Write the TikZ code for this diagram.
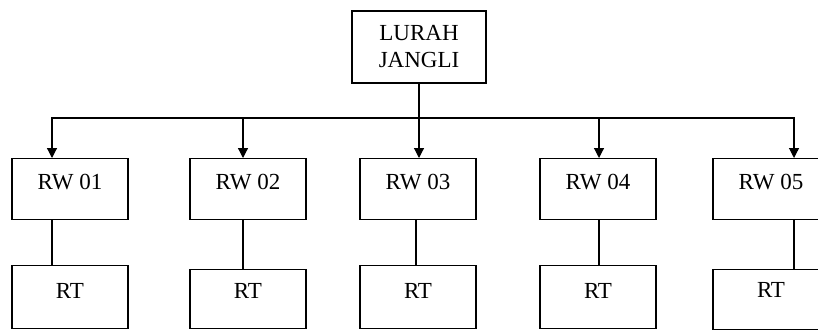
\documentclass[tikz,border=0pt]{standalone}
\usepackage{fontspec}
\setmainfont{Liberation Serif}
\usetikzlibrary{arrows.meta}
\begin{document}
\begin{tikzpicture}[x=1pt,y=-1pt,
  every node/.style={font=\fontsize{23}{27}\selectfont},
  box/.style={draw,line width=1.2pt,inner xsep=0pt,inner ysep=0pt,minimum width=116pt},
  rwbox/.style={box,text height=31pt,text depth=30pt},
  rtbox/.style={box,text height=33pt,text depth=30pt},
  conn/.style={line width=1.2pt},
  arr/.style={conn,-{Triangle[length=10pt,width=10pt]}}]
\clip (0,0) rectangle (818,329);
\fill[white] (0,0) rectangle (818,329);
\node[draw,line width=1.2pt,minimum width=134pt,minimum height=72pt,inner sep=0pt,align=center] (lurah) at (419,47) {LURAH\\JANGLI};
\node[rwbox,anchor=north] (rw1) at (70,158) {RW 01};
\node[rwbox,anchor=north] (rw2) at (248,158) {RW 02};
\node[rwbox,anchor=north] (rw3) at (418,158) {RW 03};
\node[rwbox,anchor=north] (rw4) at (598,158) {RW 04};
\node[rwbox,anchor=north] (rw5) at (771,158) {RW 05};
\node[rtbox,anchor=north] (rt1) at (70,265) {RT};
\node[rtbox,anchor=north,text height=29pt] (rt2) at (248,269) {RT};
\node[rtbox,anchor=north] (rt3) at (418,265) {RT};
\node[rtbox,anchor=north] (rt4) at (598,265) {RT};
\node[rtbox,anchor=north,text height=28pt,text depth=32pt] (rt5) at (771,269) {RT};
\coordinate (bus) at (lurah.south |- 0,118);
\coordinate (x1) at (52,0);
\coordinate (x2) at (243,0);
\coordinate (x3) at (419,0);
\coordinate (x4) at (599,0);
\coordinate (x5) at (794,0);
\draw[conn] (lurah.south) -- (bus);
\foreach \i in {1,2,3,4,5}{
  \draw[arr] (bus) -| (rw\i.north -| x\i);
}
\draw[conn] (rw1.south -| x1) -- (rt1.north -| x1);
\draw[conn] (rw2.south -| x2) -- (rt2.north -| x2);
\draw[conn] (rw3.south -| 416,0) -- (rt3.north -| 416,0);
\draw[conn] (rw4.south -| x4) -- (rt4.north -| x4);
\draw[conn] (rw5.south -| x5) -- (rt5.north -| x5);
\end{tikzpicture}
\end{document}
